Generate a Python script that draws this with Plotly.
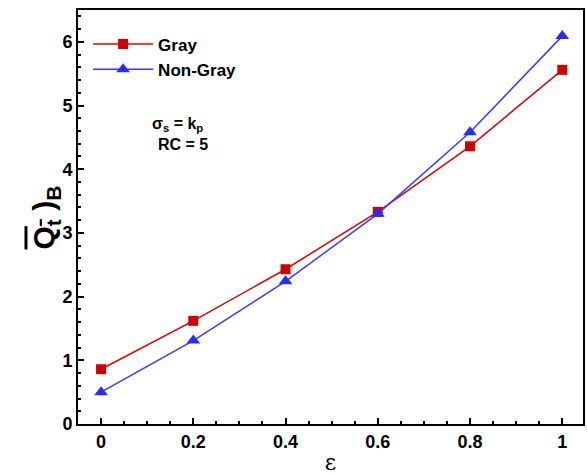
import plotly.graph_objects as go

eps = [0, 0.2, 0.4, 0.6, 0.8, 1.0]
gray = [0.86, 1.62, 2.43, 3.33, 4.36, 5.56]
nongray = [0.50, 1.31, 2.24, 3.30, 4.58, 6.09]
xticks = [0, 0.2, 0.4, 0.6, 0.8, 1]
xticklabels = ["0", "0.2", "0.4", "0.6", "0.8", "1"]
yticks = [0, 1, 2, 3, 4, 5, 6]

fig = go.Figure()
fig.add_trace(go.Scatter(x=eps, y=gray, mode="lines+markers", name="Gray",
                         line=dict(color="#e00000", width=1.5),
                         marker=dict(symbol="square", size=10, color="#d00000")))
fig.add_trace(go.Scatter(x=eps, y=nongray, mode="lines+markers", name="Non-Gray",
                         line=dict(color="#3a3aff", width=1.5),
                         marker=dict(symbol="triangle-up", size=12, color="#2a2aff")))

axis_common = dict(showline=True, linecolor="black", linewidth=2, mirror=True,
                   ticks="inside", tickcolor="black", ticklen=6, tickwidth=2,
                   showgrid=False, zeroline=False,
                   tickfont=dict(family="Liberation Sans, Arial", size=18, color="black", weight="bold"))

fig.update_xaxes(range=[-0.05, 1.045], tickvals=xticks, ticktext=xticklabels,
                 minor=dict(ticks="inside", ticklen=3, tickcolor="black", dtick=0.05, tick0=0),
                 title=dict(text="ε", font=dict(family="DejaVu Serif", size=22, color="black"), standoff=6),
                 **axis_common)
fig.update_yaxes(range=[0, 6.5], tickvals=yticks,
                 minor=dict(ticks="inside", ticklen=3, tickcolor="black", dtick=0.2, tick0=0),
                 **axis_common)

fig.add_annotation(text="<b><span style='text-decoration:overline'>Q<sub>t</sub></span> )<sub>B</sub></b>",
                   xref="paper", yref="paper", x=-0.105, y=0.50, textangle=-90,
                   showarrow=False, font=dict(family="Liberation Sans, Arial", size=30, color="black"))
fig.add_annotation(text="<b>σ<sub>s</sub> = k<sub>p</sub></b>", xref="x", yref="y",
                   x=0.165, y=4.70, xanchor="center", showarrow=False,
                   font=dict(family="Liberation Sans, Arial", size=16, color="black"))
fig.add_annotation(text="<b>RC = 5</b>", xref="x", yref="y",
                   x=0.178, y=4.39, xanchor="center", showarrow=False,
                   font=dict(family="Liberation Sans, Arial", size=16, color="black"))

fig.update_layout(width=587, height=475, margin=dict(l=78, r=2, t=10, b=48),
                  plot_bgcolor="white", paper_bgcolor="white",
                  showlegend=True,
                  legend=dict(x=0.02, y=0.96, xanchor="left", yanchor="top",
                              bgcolor="rgba(0,0,0,0)", itemwidth=60, tracegroupgap=0,
                              font=dict(family="Liberation Sans, Arial", size=17, color="black", weight="bold")))
fig.write_html("out.html")
